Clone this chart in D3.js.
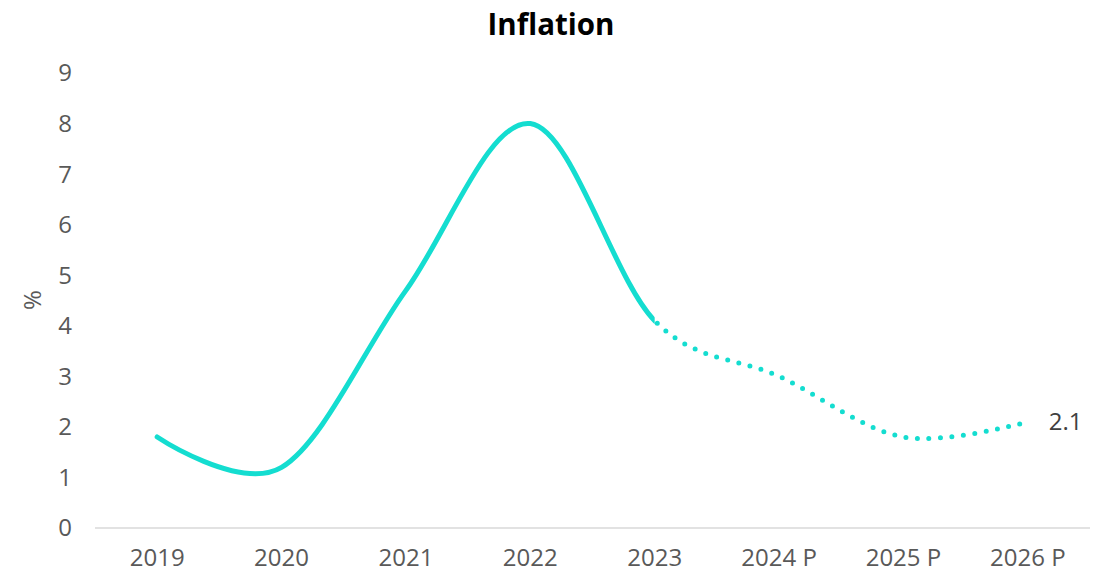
<!DOCTYPE html>
<html><head><meta charset="utf-8">
<script src="https://cdn.jsdelivr.net/npm/d3@7"></script>
<style>body{margin:0;background:#fff;} svg{display:block;}</style>
</head><body>
<svg id="c" width="1107" height="573"></svg>
<script>
const categories = ["2019","2020","2021","2022","2023","2024 P","2025 P","2026 P"];
const inflation = [1.8, 1.2, 4.7, 8.0, 4.1, 3.0, 1.8, 2.1];
const yTicks = [0,1,2,3,4,5,6,7,8,9];
const lastActualIndex = 4;
const endLabel = "2.1";
const titleText = "Inflation";
const yTitle = "%";

const svg = d3.select("#c");
const font = "'Open Sans', sans-serif";
const color = "#14DDD0";
const x = d3.scalePoint().domain(categories).range([95,1090]).padding(0.5);
const y = d3.scaleLinear().domain([0,9]).range([528,73]);

svg.append("text").attr("x",551).attr("y",35).attr("text-anchor","middle")
  .attr("font-family",font).attr("font-weight","bold").attr("font-size",29.5).attr("fill","#000").text(titleText);

// baseline
svg.append("line").attr("x1",95).attr("x2",1090).attr("y1",y(0)).attr("y2",y(0))
  .attr("stroke","#d9d9d9").attr("stroke-width",1.5);

// y ticks
svg.append("g").selectAll("text").data(yTicks).join("text")
  .attr("x",72).attr("y",d=>y(d)).attr("dy","0.35em").attr("text-anchor","end")
  .attr("font-family",font).attr("font-size",24).attr("fill","#595959").text(d=>d);

// x ticks
svg.append("g").selectAll("text").data(categories).join("text")
  .attr("x",d=>x(d)).attr("y",566).attr("text-anchor","middle")
  .attr("font-family",font).attr("font-size",24).attr("fill","#595959").text(d=>d);

svg.append("text").attr("transform","translate(41,300) rotate(-90)").attr("text-anchor","middle")
  .attr("font-family",font).attr("font-size",24).attr("fill","#595959").text(yTitle);

const defs = svg.append("defs");
const splitX = x(categories[lastActualIndex]);
defs.append("clipPath").attr("id","solid").append("rect").attr("x",0).attr("y",0).attr("width",splitX).attr("height",573);
defs.append("clipPath").attr("id","dot").append("rect").attr("x",splitX).attr("y",0).attr("width",1107-splitX).attr("height",573);

const line = d3.line().x((d,i)=>x(categories[i])).y(d=>y(d)).curve(d3.curveCatmullRom.alpha(0));
const pathD = line(inflation);
svg.append("path").attr("d",pathD).attr("fill","none").attr("stroke",color).attr("stroke-width",5)
  .attr("stroke-linecap","round").attr("clip-path","url(#solid)");

svg.append("path").attr("d",pathD).attr("fill","none").attr("stroke",color).attr("stroke-width",5)
  .attr("stroke-linecap","round").attr("stroke-dasharray","0 11.5").attr("clip-path","url(#dot)");

svg.append("text").attr("x",x(categories[categories.length-1])+21).attr("y",y(inflation[inflation.length-1])).attr("dy","0.35em")
  .attr("font-family",font).attr("font-size",24).attr("fill","#404040").text(endLabel);
</script>
</body></html>
